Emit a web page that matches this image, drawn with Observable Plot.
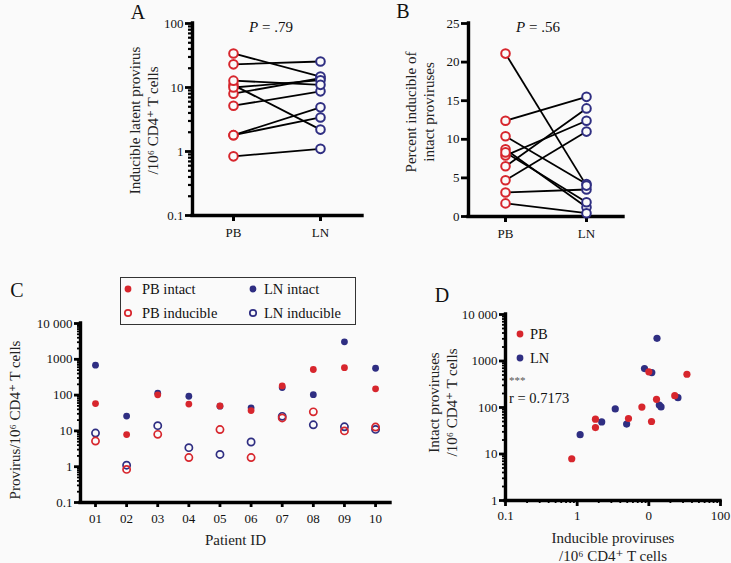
<!DOCTYPE html>
<html>
<head>
<meta charset="utf-8">
<script src="https://cdn.jsdelivr.net/npm/d3@7"></script>
<script src="https://cdn.jsdelivr.net/npm/@observablehq/plot@0.6"></script>
<style>
  html, body { margin: 0; padding: 0; background: #fafafa; }
  #wrap { position: relative; width: 731px; height: 563px; overflow: hidden; background: #fafafa;
          font-family: "Liberation Serif", "DejaVu Serif", serif; color: #111; }
  .pane { position: absolute; }
  .t { position: absolute; white-space: nowrap; line-height: 1; }
  .c { transform: translate(-50%, -50%); }
  .l { transform: translate(0, -50%); }
  .legC { position: absolute; left: 120px; top: 277px; width: 236px; height: 48px;
          border: 1.5px solid #333; box-sizing: border-box; }
  svg.sym { position: absolute; overflow: visible; }
</style>
</head>
<body>
<div id="wrap"></div>
<script>
// ---------------- data ----------------
const patients = ["01","02","03","04","05","06","07","08","09","10"];
const groups = ["PB","LN"];
// Provirus per 10^6 CD4+ T cells (panels C and D)
const pbIntact    = [58, 7.9, 102, 56, 50, 37, 180, 519, 585, 150];
const lnIntact    = [686, 26, 113, 93, 49, 44, 163, 103, 3080, 563];
const pbInducible = [5.2, 0.84, 8.0, 1.8, 10.9, 1.8, 23, 34, 10, 12.8];
const lnInducible = [8.7, 1.1, 14, 3.4, 2.2, 4.9, 25.5, 14.8, 13, 11];
// Percent inducible of intact proviruses (panel B)
const pbPercent = [8.7, 10.4, 7.9, 3.1, 21.1, 4.7, 12.4, 6.5, 1.7, 8.3];
const lnPercent = [1.2, 4.2, 12.4, 3.5, 4.0, 11.0, 15.5, 14.0, 0.43, 1.85];
// tick labels
const logTicksA = [0.1, 1, 10, 100];
const logLabelsA = ["0.1", "1", "10", "100"];
const linTicksB = [0, 5, 10, 15, 20, 25];
const logTicksC = [0.1, 1, 10, 100, 1000, 10000];
const logLabelsC = ["0.1", "1", "10", "100", "1000", "10 000"];
const logTicksDx = [0.1, 1, 10, 100];
const logLabelsDx = ["0.1", "1", "0", "100"];
const logTicksDy = [1, 10, 100, 1000, 10000];
const logLabelsDy = ["1", "10", "100", "1000", "10 000"];
const stats = {A: ".79", B: ".56", r: "0.7173"};

// ---------------- style ----------------
const RED = "#d7262d", BLUE = "#2f2e82", BG = "#fafafa";
const FONT = "Liberation Serif, DejaVu Serif, serif";
const wrap = document.getElementById("wrap");

function minorTicks(lo, hi) {
  const out = [];
  for (let e = Math.round(Math.log10(lo)); e < Math.round(Math.log10(hi)); e++)
    for (let m = 2; m <= 9; m++) out.push(+(m * Math.pow(10, e)).toPrecision(3));
  return out;
}
const fmt = (ticks, labels) => d => labels[ticks.indexOf(d)] ?? "";
function place(node, left, top) {
  const d = document.createElement("div");
  d.className = "pane"; d.style.left = left + "px"; d.style.top = top + "px";
  d.appendChild(node); wrap.appendChild(d);
}
function text(html, x, y, size, cls = "c", extra = "") {
  const d = document.createElement("div");
  d.className = "t " + cls; d.style.left = x + "px"; d.style.top = y + "px";
  d.style.fontSize = size + "px"; d.innerHTML = html;
  if (extra) d.style.cssText += extra;
  wrap.appendChild(d);
}
const baseStyle = {background: "transparent", fontFamily: FONT, fontSize: "13px", color: "#111", overflow: "visible"};
const axisOpts = {label: null, stroke: "#000", fill: "#111", fontSize: 13, fontFamily: FONT};
const axisLine = {stroke: "#000", strokeWidth: 3.4, strokeLinecap: "square"};
const ylab = {text: d => d, frameAnchor: "left", rotate: -90, textAnchor: "middle", lineAnchor: "middle", fontSize: 15, lineHeight: 1.15, fill: "#222", fontFamily: FONT};
const xlab = {text: d => d, frameAnchor: "bottom", textAnchor: "middle", lineAnchor: "middle", fontSize: 15, lineHeight: 1.15, fill: "#222", fontFamily: FONT};

const rows = patients.map((p, i) => ({
  id: i + 1, p,
  pbI: pbIntact[i], lnI: lnIntact[i], pbV: pbInducible[i], lnV: lnInducible[i],
  pbP: pbPercent[i], lnP: lnPercent[i]
}));
const gx = g => groups.indexOf(g) + 1;

// ---------------- Panel A ----------------
const A = Plot.plot({
  width: 270, height: 250, marginLeft: 92, marginTop: 23, marginBottom: 35, marginRight: 8,
  style: baseStyle,
  x: {domain: [0.529, 2.483]},
  y: {type: "log", domain: [0.1, 100]},
  marks: [
    Plot.axisY({...axisOpts, ticks: minorTicks(0.1, 100), tickSize: 4, strokeWidth: 2.2, text: null}),
    Plot.axisY({...axisOpts, ticks: logTicksA, tickFormat: fmt(logTicksA, logLabelsA), tickSize: 7, strokeWidth: 2.8, tickPadding: 2}),
    Plot.axisX({...axisOpts, ticks: [1, 2], tickFormat: d => groups[d - 1], tickSize: 6, strokeWidth: 3, tickPadding: 6}),
    Plot.ruleX([0.529], axisLine),
    Plot.ruleY([0.1], axisLine),
    Plot.text(["Inducible latent provirus\n/10\u2076 CD4\u207A T cells"], {...ylab, dx: -49, dy: 1}),
    Plot.link(rows, {x1: () => gx("PB"), x2: () => gx("LN"), y1: "pbV", y2: "lnV", stroke: "#000", strokeWidth: 1.8}),
    Plot.dot(rows, {x: () => gx("PB"), y: "pbV", r: 4.3, stroke: RED, strokeWidth: 2, fill: BG}),
    Plot.dot(rows, {x: () => gx("LN"), y: "lnV", r: 4.3, stroke: BLUE, strokeWidth: 2, fill: BG})
  ]
});
place(A, 100, 0);

// ---------------- Panel B ----------------
const B = Plot.plot({
  width: 270, height: 250, marginLeft: 98, marginTop: 23, marginBottom: 34, marginRight: 17,
  style: baseStyle,
  x: {domain: [0.543, 2.457]},
  y: {domain: [0, 25]},
  marks: [
    Plot.axisY({...axisOpts, ticks: linTicksB, tickSize: 7, strokeWidth: 2.8, tickPadding: 2}),
    Plot.axisX({...axisOpts, ticks: [1, 2], tickFormat: d => groups[d - 1], tickSize: 6, strokeWidth: 3, tickPadding: 6}),
    Plot.ruleX([0.543], axisLine),
    Plot.ruleY([0], axisLine),
    Plot.text(["Percent inducible of\nintact proviruses"], {...ylab, dx: -49, dy: -8}),
    Plot.link(rows, {x1: () => gx("PB"), x2: () => gx("LN"), y1: "pbP", y2: "lnP", stroke: "#000", strokeWidth: 1.8}),
    Plot.dot(rows, {x: () => gx("PB"), y: "pbP", r: 4.3, stroke: RED, strokeWidth: 2, fill: BG}),
    Plot.dot(rows, {x: () => gx("LN"), y: "lnP", r: 4.3, stroke: BLUE, strokeWidth: 2, fill: BG})
  ]
});
place(B, 370, 0);

// ---------------- Panel C ----------------
const C = Plot.plot({
  width: 400, height: 293, marginLeft: 80, marginTop: 53, marginBottom: 61, marginRight: 10,
  style: baseStyle,
  x: {domain: [0.518, 10.48]},
  y: {type: "log", domain: [0.1, 10000]},
  marks: [
    Plot.axisY({...axisOpts, ticks: minorTicks(0.1, 10000), tickSize: 3, strokeWidth: 1.8, text: null}),
    Plot.axisY({...axisOpts, ticks: logTicksC, tickFormat: fmt(logTicksC, logLabelsC), tickSize: 6, strokeWidth: 2.8, tickPadding: 2}),
    Plot.axisX({...axisOpts, ticks: d3.range(1, patients.length + 1), tickFormat: d => patients[d - 1], tickSize: 5, strokeWidth: 2.8, tickPadding: 6}),
    Plot.ruleX([0.518], axisLine),
    Plot.ruleY([0.1], axisLine),
    Plot.text(["Provirus/10\u2076 CD4\u207A T cells"], {...ylab, dx: -66, dy: 7}),
    Plot.text(["Patient ID"], {...xlab, dy: 37}),
    Plot.dot(rows, {x: "id", y: "lnI", r: 3.4, fill: BLUE}),
    Plot.dot(rows, {x: "id", y: "pbI", r: 3.4, fill: RED}),
    Plot.dot(rows, {x: "id", y: "lnV", r: 3.6, stroke: BLUE, strokeWidth: 1.7, fill: "none"}),
    Plot.dot(rows, {x: "id", y: "pbV", r: 3.6, stroke: RED, strokeWidth: 1.7, fill: "none"})
  ]
});
place(C, 0, 270);

// ---------------- Panel D ----------------
const D = Plot.plot({
  width: 351, height: 293, marginLeft: 125, marginTop: 44, marginBottom: 63, marginRight: 11,
  style: baseStyle,
  x: {type: "log", domain: [0.1, 100]},
  y: {type: "log", domain: [1, 10000]},
  marks: [
    Plot.axisY({...axisOpts, ticks: minorTicks(1, 10000), tickSize: 3, strokeWidth: 1.8, text: null}),
    Plot.axisY({...axisOpts, ticks: logTicksDy, tickFormat: fmt(logTicksDy, logLabelsDy), tickSize: 6, strokeWidth: 2.8, tickPadding: 2}),
    Plot.axisX({...axisOpts, ticks: minorTicks(0.1, 100), tickSize: 3, strokeWidth: 1.8, text: null}),
    Plot.axisX({...axisOpts, ticks: logTicksDx, tickFormat: fmt(logTicksDx, logLabelsDx), tickSize: 6, strokeWidth: 2.8, tickPadding: 4}),
    Plot.ruleX([0.1], axisLine),
    Plot.ruleY([1], axisLine),
    Plot.text(["Intact proviruses\n/10\u2076 CD4\u207A T cells"], {...ylab, dx: -63, dy: -5}),
    Plot.text(["Inducible proviruses\n/10\u2076 CD4\u207A T cells"], {...xlab, dy: 46}),
    Plot.dot(rows, {x: "lnV", y: "lnI", r: 3.6, fill: BLUE}),
    Plot.dot(rows, {x: "pbV", y: "pbI", r: 3.6, fill: RED})
  ]
});
place(D, 380, 270);

// ---------------- annotations ----------------
text("A", 138, 12, 20);
text("B", 403, 11, 20);
text("C", 17, 290, 20);
text("D", 442, 295, 20);
text("<i>P</i> = " + stats.A, 271, 27, 15);
text("<i>P</i> = " + stats.B, 538, 27, 15);

// legend C
const leg = document.createElement("div"); leg.className = "legC"; wrap.appendChild(leg);
function sym(x, y, color, filled) {
  const ns = "http://www.w3.org/2000/svg";
  const s = document.createElementNS(ns, "svg");
  s.setAttribute("class", "sym"); s.setAttribute("width", 10); s.setAttribute("height", 10);
  s.style.left = (x - 5) + "px"; s.style.top = (y - 5) + "px";
  const c = document.createElementNS(ns, "circle");
  c.setAttribute("cx", 5); c.setAttribute("cy", 5);
  c.setAttribute("r", filled ? 3.4 : 3.2);
  c.setAttribute("fill", filled ? color : "none");
  if (!filled) { c.setAttribute("stroke", color); c.setAttribute("stroke-width", 1.7); }
  s.appendChild(c); wrap.appendChild(s);
}
sym(128, 289, RED, true);   text("PB intact", 142, 289, 14.5, "l");
sym(253, 289, BLUE, true);  text("LN intact", 264, 289, 14.5, "l");
sym(128, 313, RED, false);  text("PB inducible", 142, 313, 14.5, "l");
sym(253, 313, BLUE, false); text("LN inducible", 264, 313, 14.5, "l");

// legend D
sym(520, 334, RED, true);  text("PB", 530, 334, 14.5, "l");
sym(520, 358, BLUE, true); text("LN", 530, 358, 14.5, "l");
text("***", 509, 380, 11, "l", "color:#555;");
text("r = " + stats.r, 509, 398, 14.5, "l");
</script>
</body>
</html>
